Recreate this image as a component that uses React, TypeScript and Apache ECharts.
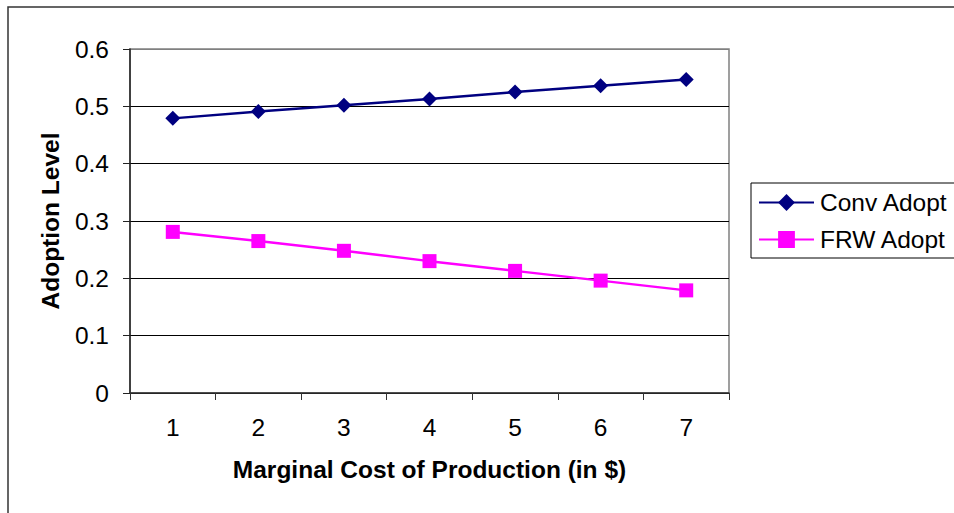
import React, { useEffect, useRef } from "react";
import * as echarts from "echarts";

const categories = ["1", "2", "3", "4", "5", "6", "7"];
const convAdopt = [0.479, 0.491, 0.502, 0.513, 0.525, 0.536, 0.547];
const frwAdopt = [0.281, 0.265, 0.248, 0.23, 0.213, 0.196, 0.179];
const yTicks = { min: 0, max: 0.6, interval: 0.1 };

const FONT = "'Liberation Sans', Arial, sans-serif";
const FS = 24.5;

export default function App() {
  const ref = useRef<HTMLDivElement>(null);
  useEffect(() => {
    if (!ref.current) return;
    const chart = echarts.init(ref.current, null, { renderer: "svg" });
    chart.setOption({
      animation: false,
      backgroundColor: "#ffffff",
      textStyle: { fontFamily: FONT },
      graphic: [
        {
          type: "rect",
          shape: { x: 8, y: 7, width: 1000, height: 600 },
          style: { fill: "none", stroke: "#333333", lineWidth: 1.5 },
          silent: true,
        },
        {
          type: "rect",
          shape: { x: 751, y: 183, width: 260, height: 75 },
          style: { fill: "#ffffff", stroke: "#000000", lineWidth: 1 },
          silent: true,
          z: 0,
        },
      ],
      grid: {
        left: 130,
        top: 49,
        width: 599,
        height: 344,
        show: true,
        borderColor: "#808080",
        borderWidth: 1.5,
        backgroundColor: "transparent",
      },
      legend: {
        orient: "vertical",
        left: 758,
        top: 190,
        itemWidth: 55,
        itemHeight: 21,
        itemGap: 12,
        padding: 0,
        textStyle: { fontFamily: FONT, fontSize: FS, color: "#000000", padding: [0, 0, 0, 1] },
        data: ["Conv Adopt", "FRW Adopt"],
        z: 10,
      },
      xAxis: {
        type: "category",
        data: categories,
        boundaryGap: true,
        name: "Marginal Cost of Production (in $)",
        nameLocation: "middle",
        nameGap: 64,
        nameTextStyle: { fontFamily: FONT, fontSize: FS, fontWeight: "bold", color: "#000000" },
        axisLine: { lineStyle: { color: "#333333", width: 1.5 } },
        axisTick: { show: true, alignWithLabel: false, length: 7, lineStyle: { color: "#333333" } },
        axisLabel: { fontFamily: FONT, fontSize: FS, color: "#000000", margin: 22 },
        splitLine: { show: false },
      },
      yAxis: {
        type: "value",
        min: yTicks.min,
        max: yTicks.max,
        interval: yTicks.interval,
        name: "Adoption Level",
        nameLocation: "middle",
        nameGap: 67,
        nameTextStyle: { fontFamily: FONT, fontSize: FS, fontWeight: "bold", color: "#000000" },
        axisLine: { show: true, lineStyle: { color: "#222222", width: 1.5 } },
        axisTick: { show: true, length: 7, lineStyle: { color: "#222222" } },
        axisLabel: {
          fontFamily: FONT,
          fontSize: FS,
          color: "#000000",
          margin: 21,
          formatter: (v: number) => (v === 0 ? "0" : String(Math.round(v * 10) / 10)),
        },
        splitLine: {
          show: true,
          lineStyle: {
            color: ["#000000", "#000000", "#000000", "#000000", "#000000", "#000000", "#808080"],
            width: 1,
          },
        },
      },
      series: [
        {
          name: "Conv Adopt",
          type: "line",
          data: convAdopt,
          symbol: "diamond",
          symbolSize: 15,
          lineStyle: { color: "#000080", width: 2.5 },
          itemStyle: { color: "#000080" },
          z: 3,
        },
        {
          name: "FRW Adopt",
          type: "line",
          data: frwAdopt,
          symbol: "rect",
          symbolSize: 14,
          lineStyle: { color: "#FF00FF", width: 2.5 },
          itemStyle: { color: "#FF00FF" },
          z: 3,
        },
      ],
    });
    return () => chart.dispose();
  }, []);
  return (
    <div
      ref={ref}
      style={{ position: "absolute", left: 0, top: 0, width: 954, height: 513 }}
    />
  );
}
